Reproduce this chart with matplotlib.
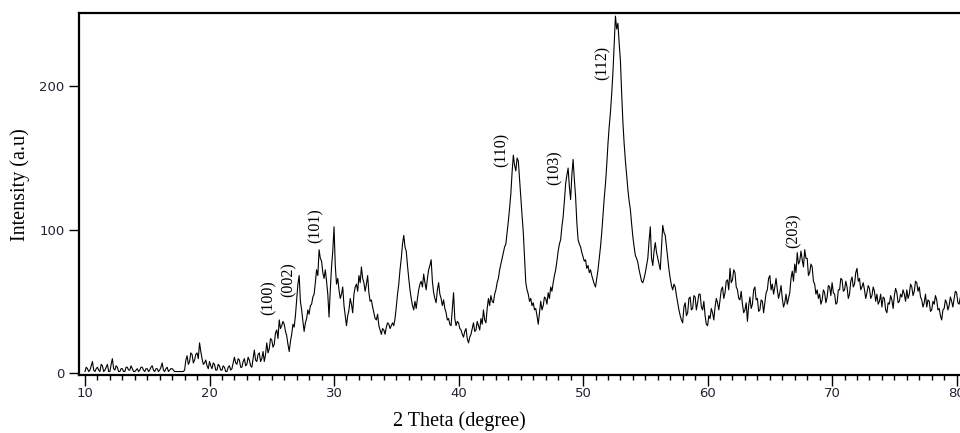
import numpy as np
import matplotlib
matplotlib.use('Agg')
import matplotlib.pyplot as plt
from matplotlib.ticker import MultipleLocator

# XRD pattern, every 0.1 degree (one row = one degree, 10.0 .. 80.4)
two_theta_start = 10.0
two_theta_step = 0.1
intensity = [
    1, 4, 3, 1, 2, 5, 8, 2, 1, 3,
    4, 2, 1, 6, 5, 1, 2, 4, 6, 1,
    1, 6, 10, 3, 2, 5, 4, 1, 1, 3,
    3, 1, 1, 4, 4, 2, 2, 5, 3, 1,
    1, 2, 3, 1, 2, 4, 4, 2, 1, 3,
    3, 1, 2, 4, 5, 2, 1, 3, 3, 1,
    2, 4, 7, 2, 1, 3, 4, 1, 2, 3,
    3, 2, 1, 1, 1, 1, 1, 1, 1, 1,
    2, 9, 12, 6, 8, 14, 13, 7, 9, 13,
    14, 10, 21, 15, 10, 6, 7, 9, 5, 3,
    8, 5, 3, 7, 6, 2, 2, 6, 5, 2,
    2, 5, 4, 1, 1, 4, 5, 2, 3, 7,
    11, 7, 6, 10, 9, 4, 4, 8, 10, 5,
    6, 11, 9, 5, 4, 10, 16, 9, 8, 13,
    14, 8, 10, 15, 8, 13, 21, 14, 17, 24,
    23, 18, 20, 28, 30, 24, 37, 31, 33, 36,
    34, 29, 26, 20, 15, 22, 27, 34, 32, 40,
    51, 62, 68, 50, 44, 36, 29, 35, 38, 44,
    41, 47, 48, 53, 55, 63, 72, 68, 86, 80,
    78, 70, 66, 72, 64, 55, 39, 58, 74, 85,
    102, 75, 62, 66, 58, 52, 55, 60, 47, 40,
    33, 40, 44, 52, 48, 42, 55, 60, 62, 57,
    68, 63, 74, 66, 63, 57, 62, 68, 56, 50,
    51, 46, 42, 38, 37, 41, 33, 30, 27, 31,
    30, 27, 32, 35, 34, 31, 33, 35, 33, 38,
    46, 55, 62, 72, 80, 90, 96, 88, 85, 75,
    66, 58, 52, 47, 44, 50, 45, 52, 58, 62,
    64, 60, 69, 63, 58, 66, 72, 75, 79, 64,
    56, 52, 49, 58, 63, 55, 52, 47, 51, 45,
    42, 37, 38, 34, 33, 45, 56, 38, 33, 36,
    35, 31, 30, 27, 25, 29, 31, 24, 21, 25,
    27, 31, 35, 29, 30, 36, 33, 30, 38, 34,
    44, 37, 35, 45, 52, 47, 54, 50, 49, 55,
    58, 63, 66, 72, 76, 80, 84, 88, 90, 98,
    106, 115, 125, 140, 152, 145, 141, 150, 148, 135,
    123, 110, 98, 80, 63, 58, 55, 50, 52, 47,
    49, 44, 45, 40, 34, 42, 50, 44, 47, 53,
    52, 48, 56, 52, 60, 57, 63, 68, 72, 78,
    85, 90, 93, 102, 109, 120, 132, 138, 143, 130,
    121, 138, 149, 135, 123, 105, 93, 90, 88, 84,
    81, 78, 79, 73, 75, 70, 72, 68, 65, 62,
    60, 66, 72, 80, 88, 98, 110, 122, 132, 145,
    160, 172, 182, 195, 210, 230, 249, 240, 244, 230,
    218, 195, 175, 160, 148, 138, 128, 120, 114, 104,
    95, 88, 82, 80, 77, 72, 68, 64, 63, 66,
    70, 75, 80, 92, 102, 80, 75, 85, 91, 84,
    80, 76, 72, 88, 103, 98, 96, 88, 80, 72,
    66, 61, 58, 62, 60, 54, 49, 44, 40, 37,
    35, 46, 49, 40, 42, 52, 53, 44, 45, 54,
    53, 44, 49, 55, 55, 46, 44, 50, 40, 34,
    33, 40, 38, 45, 42, 37, 46, 52, 49, 44,
    51, 58, 60, 52, 56, 64, 65, 58, 73, 63,
    65, 72, 70, 60, 58, 52, 51, 57, 48, 42,
    44, 49, 36, 47, 53, 45, 48, 58, 60, 51,
    52, 43, 44, 51, 50, 42, 49, 56, 58, 66,
    68, 58, 62, 55, 60, 66, 58, 52, 56, 61,
    52, 46, 49, 55, 48, 52, 56, 66, 71, 64,
    76, 70, 84, 76, 78, 85, 79, 74, 86, 80,
    80, 68, 70, 76, 74, 64, 62, 55, 58, 52,
    55, 48, 51, 58, 56, 49, 53, 61, 60, 54,
    63, 56, 55, 48, 49, 58, 58, 66, 65, 57,
    58, 64, 60, 52, 55, 64, 67, 60, 62, 70,
    73, 64, 66, 58, 60, 63, 58, 52, 56, 61,
    59, 52, 54, 60, 57, 50, 55, 48, 50, 55,
    46, 53, 52, 44, 42, 49, 48, 54, 51, 45,
    54, 59, 56, 49, 50, 55, 53, 58, 55, 50,
    58, 52, 55, 62, 60, 54, 57, 64, 63, 57,
    60, 53, 51, 46, 49, 55, 46, 51, 50, 43,
    44, 50, 48, 54, 51, 44, 45, 40, 37, 44,
    45, 51, 49, 44, 47, 53, 50, 46, 52, 57,
    56, 49, 48, 53, 52,
]
two_theta = two_theta_start + two_theta_step * np.arange(len(intensity))

peak_labels = ['(100)', '(002)', '(101)', '(110)', '(103)', '(112)', '(203)']
peak_x = [24.72, 26.33, 28.53, 43.46, 47.75, 51.55, 66.9]
peak_y = [40.5, 53.2, 90.5, 144, 131, 204.5, 87]

fig = plt.figure(figsize=(9.6, 4.33), dpi=100)
ax = fig.add_axes([0.0823, 0.134, 0.923, 0.836])
ax.plot(two_theta, intensity, color='black', lw=0.8)

ax.set_xlim(9.52, 80.68)
ax.set_ylim(-1.4, 251.2)
ax.xaxis.set_major_locator(MultipleLocator(10))
ax.xaxis.set_minor_locator(MultipleLocator(1))
ax.set_yticks([0, 100, 200])
ax.tick_params(axis='x', which='major', direction='out', length=8, width=1, pad=1,
               labelsize=9.5, labelcolor='#222233')
ax.tick_params(axis='x', which='minor', direction='out', length=3.5, width=1)
ax.tick_params(axis='y', which='major', direction='out', length=7, width=1, pad=3.5,
               labelsize=9.5, labelcolor='#222233')
for side in ['left', 'bottom', 'top']:
    ax.spines[side].set_linewidth(1.6)
ax.spines['right'].set_visible(False)

for lab, x, y in zip(peak_labels, peak_x, peak_y):
    ax.text(x, y, lab, rotation=90, ha='center', va='bottom',
            family='Liberation Serif', fontsize=11.5)

fig.text(0.479, 1 - 421 / 433, '2 Theta (degree)', ha='center', va='center',
         family='Liberation Serif', fontsize=14.5)
fig.text(20 / 960, 1 - 185 / 433, 'Intensity (a.u)', rotation=90, ha='center', va='center',
         family='Liberation Serif', fontsize=14.5)

plt.savefig('out.png', dpi=100)
